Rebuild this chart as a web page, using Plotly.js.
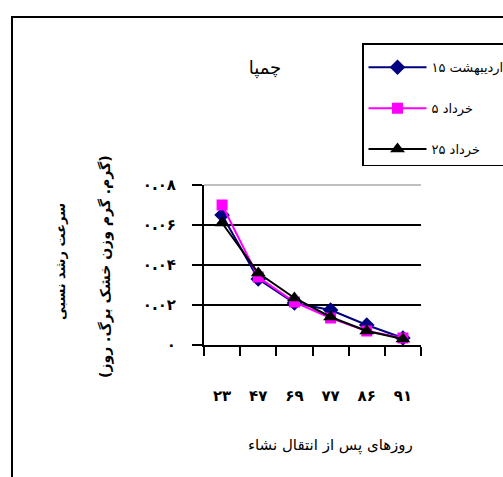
<!DOCTYPE html>
<html>
<head>
<meta charset="utf-8">
<script src="https://cdn.plot.ly/plotly-3.0.1.min.js"></script>
<style>html,body{margin:0;padding:0;background:#fff;}#chart{width:503px;height:477px;}</style>
</head>
<body>
<div id="chart"></div>
<script>
// Data
var days = ["۲۳", "۴۷", "۶۹", "۷۷", "۸۶", "۹۱"];
var seriesNames = ["۱۵ اردیبهشت", "۵ خرداد", "۲۵ خرداد"];
var s1 = [0.065, 0.033, 0.021, 0.0175, 0.010, 0.0035];
var s2 = [0.070, 0.034, 0.0215, 0.0135, 0.007, 0.0035];
var s3 = [0.061, 0.036, 0.0235, 0.014, 0.007, 0.0030];
var yTickVals = [0, 0.02, 0.04, 0.06, 0.08];
var yTickText = ["۰", "۰.۰۲", "۰.۰۴", "۰.۰۶", "۰.۰۸"];
var titleText = "چمپا";
var xTitle = "روزهای پس از انتقال نشاء";
var yTitle1 = "سرعت رشد نسبی";
var yTitle2 = "(گرم. گرم وزن خشک برگ. روز)";

var font = "DejaVu Sans, sans-serif";
var colors = ["#000080", "#FF00FF", "#000000"];
var symbols = ["diamond", "square", "triangle-up"];
var sizes = [12, 11, 13];
var vals = [s1, s2, s3];

var traces = vals.map(function (v, i) {
  return {
    x: days, y: v, type: "scatter", mode: "lines+markers",
    name: seriesNames[i], legendgroup: "g" + i,
    line: {color: colors[i], width: 2},
    marker: {symbol: symbols[i], size: sizes[i], color: colors[i]},
    cliponaxis: false
  };
});

var W = 503, H = 477, L = 204, R = 421, T = 185, B = 345;
function px(p) { return (p - L) / (R - L); }
function py(p) { return (B - p) / (B - T); }

var layout = {
  width: W, height: H,
  margin: {l: L, r: W - R, t: T, b: H - B, autoexpand: false},
  paper_bgcolor: "#fff", plot_bgcolor: "#fff",
  font: {family: font, size: 12, color: "#000"},
  showlegend: true,
  legend: {
    xref: "container", yref: "container",
    x: 362 / W, xanchor: "left",
    y: 1 - 43 / H, yanchor: "top",
    bordercolor: "#000", borderwidth: 1.5,
    bgcolor: "#fff",
    font: {family: font, size: 13, color: "#000"},
    itemwidth: 58,
    tracegroupgap: 21,
    traceorder: "grouped",
    title: {text: " ", font: {size: 6}}
  },
  title: {text: titleText, font: {family: font, size: 18, color: "#000"},
          xref: "paper", x: px(265), xanchor: "center",
          yref: "container", y: 1 - 68 / H, yanchor: "middle"},
  xaxis: {
    type: "category", range: [-0.5, 5.5],
    showgrid: false, zeroline: false,
    showline: true, linecolor: "#000", linewidth: 2,
    ticks: "outside", tickson: "boundaries", ticklen: 9, tickwidth: 2, tickcolor: "#000",
    tickfont: {family: font, size: 15, color: "#000", weight: "bold"},
    ticklabelstandoff: 36
  },
  yaxis: {
    range: [0, 0.08],
    tickvals: yTickVals, ticktext: yTickText,
    showgrid: true, gridcolor: "#000", gridwidth: 2,
    zeroline: false,
    showline: true, linecolor: "#000", linewidth: 2,
    ticks: "outside", ticklen: 10, tickwidth: 2, tickcolor: "#000",
    tickfont: {family: font, size: 15, color: "#000", weight: "bold"},
    ticklabelstandoff: 13
  },
  shapes: [
    {type: "line", xref: "paper", yref: "paper", x0: 0, x1: 1, y0: 1, y1: 1,
     line: {color: "#c0c0c0", width: 2}},
    {type: "rect", xref: "paper", yref: "paper",
     x0: px(12), x1: px(520), y0: py(500), y1: py(17),
     line: {color: "#000", width: 2}, fillcolor: "rgba(0,0,0,0)", layer: "below"}
  ],
  annotations: [
    {text: yTitle1, xref: "paper", yref: "paper", x: px(60), y: py(262),
     xanchor: "center", yanchor: "middle",
     textangle: -90, showarrow: false, font: {family: font, size: 13, color: "#000", weight: "bold"}},
    {text: yTitle2, xref: "paper", yref: "paper", x: px(105), y: py(267),
     xanchor: "center", yanchor: "middle",
     textangle: -90, showarrow: false, font: {family: font, size: 14, color: "#000", weight: "bold"}},
    {text: xTitle, xref: "paper", yref: "paper", x: px(330), y: py(445),
     xanchor: "center", yanchor: "middle",
     showarrow: false, font: {family: font, size: 15, color: "#000"}}
  ]
};

Plotly.newPlot("chart", traces, layout, {displayModeBar: false, staticPlot: true});
</script>
</body>
</html>
